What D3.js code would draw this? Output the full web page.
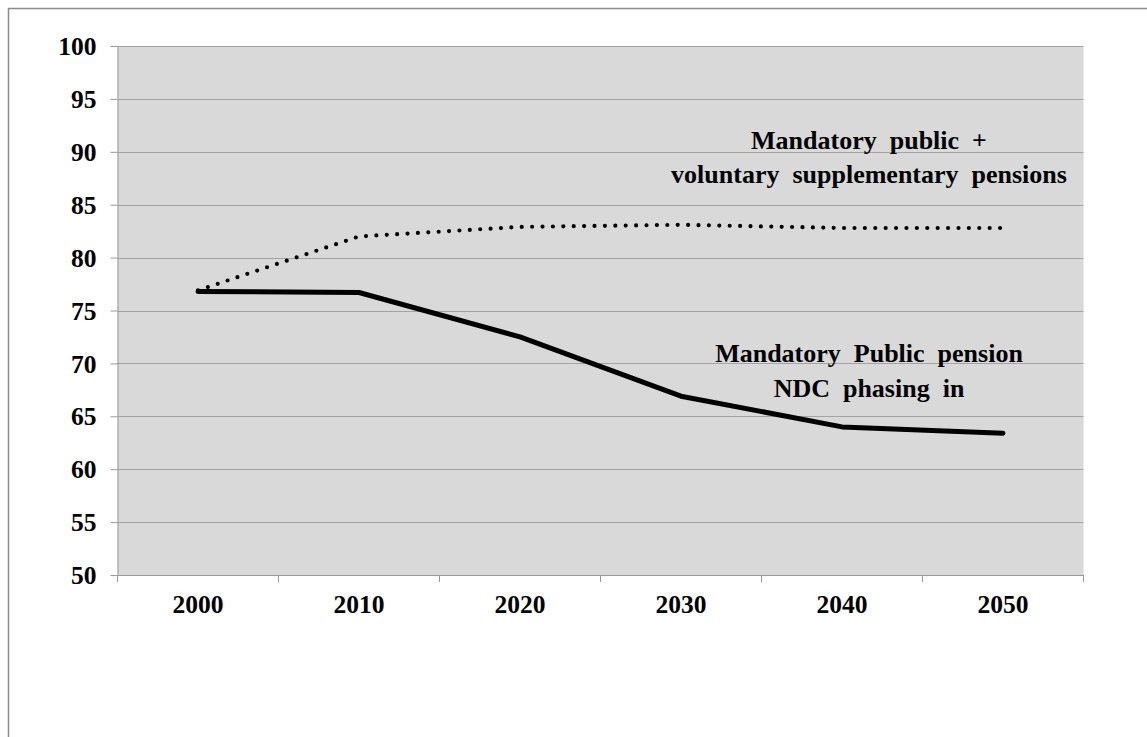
<!DOCTYPE html>
<html lang="en">
<head>
  <meta charset="UTF-8" />
  <title>Replacement rates</title>
  <script src="https://d3js.org/d3.v7.min.js"></script>
  <style>
    body { margin: 0; background: #fff; }
    text { font-family: "Liberation Serif", "Times New Roman", serif; font-weight: bold; fill: #000; }
    .grid line { stroke: #a3a3a3; stroke-width: 1px; }
    .axis path, .axis line { stroke: #9a9a9a; stroke-width: 1px; }
  </style>
</head>
<body>
<script>
  // data
  const years = ["2000", "2010", "2020", "2030", "2040", "2050"];
  const publicPension = [76.8, 76.7, 72.5, 66.9, 64.0, 63.4];
  const withVoluntary = [76.9, 82.0, 82.9, 83.1, 82.8, 82.8];
  const yTicks = [50, 55, 60, 65, 70, 75, 80, 85, 90, 95, 100];
  const labelTop = ["Mandatory  public  +", "voluntary  supplementary  pensions"];
  const labelBottom = ["Mandatory  Public  pension", "NDC  phasing  in"];

  const W = 1147, H = 737;
  const plot = { left: 117.5, right: 1083.5, top: 46, bottom: 575 };

  const svg = d3.select("body").append("svg")
    .attr("width", W).attr("height", H);

  // outer frame (only top and left edges are visible)
  svg.append("rect")
    .attr("x", 8.5).attr("y", 8.5)
    .attr("width", W + 20).attr("height", H + 20)
    .attr("fill", "none").attr("stroke", "#8c8c8c").attr("stroke-width", 1.5);

  const x = d3.scaleBand().domain(years).range([plot.left, plot.right]).padding(0);
  const y = d3.scaleLinear().domain([50, 100]).range([plot.bottom, plot.top]);

  // plot background
  svg.append("rect")
    .attr("x", plot.left).attr("y", plot.top)
    .attr("width", plot.right - plot.left).attr("height", plot.bottom - plot.top)
    .attr("fill", "#d9d9d9");

  // gridlines
  svg.append("g").attr("class", "grid")
    .selectAll("line").data(yTicks.filter(d => d > 50)).join("line")
      .attr("x1", plot.left).attr("x2", plot.right)
      .attr("y1", d => Math.round(y(d)) + 0.5).attr("y2", d => Math.round(y(d)) + 0.5);

  // y axis
  const yAxis = svg.append("g").attr("class", "axis")
    .attr("transform", `translate(${plot.left},0)`)
    .call(d3.axisLeft(y).tickValues(yTicks).tickSize(7).tickPadding(14).tickSizeOuter(0));
  yAxis.selectAll("text").style("font-size", "25.5px").attr("dy", "0.34em");

  // x axis: labels centred in bands, ticks on band edges
  const xAxis = svg.append("g").attr("class", "axis")
    .attr("transform", `translate(0,${plot.bottom})`)
    .call(d3.axisBottom(x).tickSize(0).tickPadding(20).tickSizeOuter(0));
  xAxis.selectAll("text").style("font-size", "25.5px");
  xAxis.selectAll(".edge")
    .data(years.map(d => x(d)).concat([plot.right])).join("line")
      .attr("class", "edge")
      .attr("x1", d => d).attr("x2", d => d)
      .attr("y1", 0).attr("y2", 7);

  const line = d3.line()
    .x((d, i) => x(years[i]) + x.bandwidth() / 2)
    .y(d => y(d));

  svg.append("path")
    .attr("d", line(withVoluntary))
    .attr("fill", "none").attr("stroke", "#000")
    .attr("stroke-width", 4.2)
    .attr("stroke-linecap", "round")
    .attr("stroke-dasharray", "0 10.4");

  svg.append("path")
    .attr("d", line(publicPension))
    .attr("fill", "none").attr("stroke", "#000")
    .attr("stroke-width", 5)
    .attr("stroke-linecap", "round")
    .attr("stroke-linejoin", "round");

  // series labels
  const cx = x("2040") + x.bandwidth() / 2 + 27;
  svg.append("text")
    .attr("x", cx).attr("y", y(90) - 3)
    .attr("text-anchor", "middle").style("font-size", "26px").style("white-space", "pre")
    .selectAll("tspan").data(labelTop).join("tspan")
      .attr("x", cx).attr("dy", (d, i) => i ? 34 : 0)
      .text(d => d);

  svg.append("text")
    .attr("x", cx).attr("y", y(70) - 1)
    .attr("text-anchor", "middle").style("font-size", "26px").style("white-space", "pre")
    .selectAll("tspan").data(labelBottom).join("tspan")
      .attr("x", cx).attr("dy", (d, i) => i ? 35 : 0)
      .text(d => d);
</script>
</body>
</html>
